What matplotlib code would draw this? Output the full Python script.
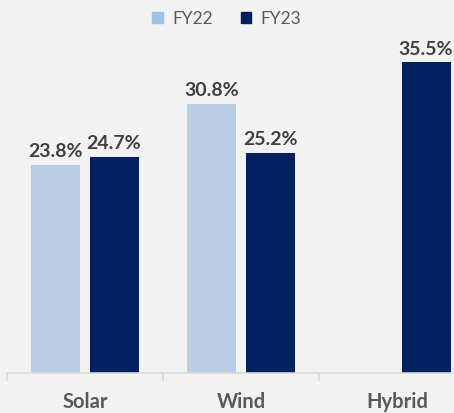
import numpy as np
import matplotlib.pyplot as plt

# data
categories = ['Solar', 'Wind', 'Hybrid']
fy22 = [23.8, 30.8, np.nan]
fy23 = [24.7, 25.2, 35.5]

bg = '#f2f2f2'
c22 = '#b9cde5'
c23 = '#002060'
c22_legend = '#9dc3e6'

plt.rcParams['font.family'] = ['Lato', 'DejaVu Sans']

fig = plt.figure(figsize=(4.54, 4.14), dpi=100, facecolor=bg)
# axes stretch slightly past the right edge, like the original crop
ax = fig.add_axes([7 / 454, 40 / 414, 468 / 454, 350 / 414], facecolor=bg)

x = np.arange(len(categories))
w = 0.314
off = 0.186
b1 = ax.bar(x - off, fy22, w, color=c22)
b2 = ax.bar(x + off, fy23, w, color=c23)

for bars, vals in [(b1, fy22), (b2, fy23)]:
    for rect, v in zip(bars, vals):
        if np.isnan(v):
            continue
        ax.annotate(f'{v:.1f}%', (rect.get_x() + rect.get_width() / 2, v),
                    xytext=(0, 4), textcoords='offset points',
                    ha='center', va='bottom', fontsize=14,
                    fontweight='bold', color='#404040')

ax.set_xlim(-0.5, 2.5)
ax.set_ylim(0, 40)
ax.set_yticks([])
ax.set_xticks(x)
ax.set_xticklabels(categories, fontsize=14.5, fontweight='bold', color='#595959')
ax.tick_params(axis='x', which='major', length=0, pad=13)
ax.set_xticks([-0.5, 0.5, 1.5, 2.5], minor=True)
ax.tick_params(axis='x', which='minor', length=6, color='#d9d9d9', width=1.2)

for s in ['top', 'right', 'left']:
    ax.spines[s].set_visible(False)
ax.spines['bottom'].set_color('#d9d9d9')
ax.spines['bottom'].set_linewidth(1.2)

h1 = plt.Rectangle((0, 0), 1, 1, color=c22_legend)
h2 = plt.Rectangle((0, 0), 1, 1, color=c23)
fig.legend([h1, h2], ['FY22', 'FY23'], loc='upper center',
           bbox_to_anchor=(0.5, 1.01), ncol=2, frameon=False,
           fontsize=12.5, labelcolor='#595959', handlelength=0.6,
           handleheight=0.6, handletextpad=0.55, columnspacing=1.6)

fig.savefig('out.png', dpi=100, facecolor=bg)
